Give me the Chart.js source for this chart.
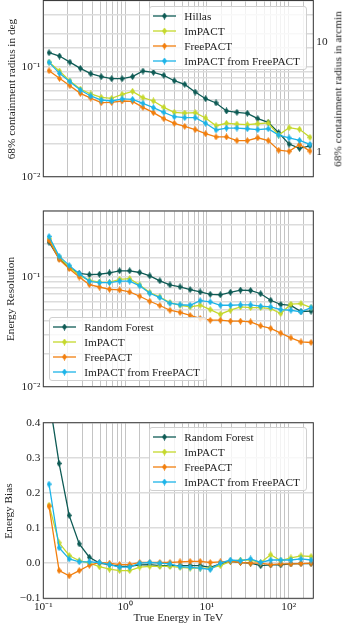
<!DOCTYPE html>
<html>
<head>
<meta charset="utf-8">
<script src="https://cdn.jsdelivr.net/npm/chart.js@4.4.1/dist/chart.umd.min.js"></script>
<style>
  html, body { margin: 0; padding: 0; background: #fff; }
  #page { position: relative; width: 348px; height: 625px; overflow: hidden; font-family: "Liberation Serif", serif; color: #222; }
  #page canvas.plot { position: absolute; left: 0; }
  .title { position: absolute; white-space: nowrap; font-size: 11.3px; line-height: 1; }
  .ytitle { transform: translate(-50%, -50%) rotate(-90deg); }
  .xtitle { transform: translate(-50%, -50%); }
  .legend { position: absolute; width: 158px; height: 64px; background: rgba(255,255,255,0.8); border: 1px solid #d0d0d0; border-radius: 3px; box-sizing: border-box; }
  .legend .row { position: absolute; left: 0; height: 14px; white-space: nowrap; font-size: 11.3px; line-height: 14px; }
  .legend .row canvas { position: absolute; left: 3px; top: 2px; }
  .legend .row span { position: absolute; left: 34px; top: 0; }
</style>
</head>
<body>
<div id="page">
  <canvas id="psf" class="plot" width="348" height="180" style="top:0px"></canvas>
  <canvas id="res" class="plot" width="348" height="190" style="top:200px"></canvas>
  <canvas id="bias" class="plot" width="348" height="215" style="top:410px"></canvas>

  <div class="title ytitle" style="left:11.5px; top:88.6px">68% containment radius in deg</div>
  <div class="title ytitle" style="left:337.5px; top:88.6px">68% containment radius in arcmin</div>
  <div class="title ytitle" style="left:11px; top:299px">Energy Resolution</div>
  <div class="title ytitle" style="left:8.5px; top:510.5px">Energy Bias</div>
  <div class="title xtitle" style="left:178.3px; top:618px">True Energy in TeV</div>

  <div id="legPsf" class="legend" style="left:149.3px; top:6px"></div>
  <div id="legRes" class="legend" style="left:49.3px; top:316.7px"></div>
  <div id="legBias" class="legend" style="left:149.3px; top:426.7px"></div>
</div>

<script>
// bin centres in TeV
const energyPsf = [0.1175, 0.1576, 0.2114, 0.2836, 0.3804, 0.5105, 0.6848, 0.9188, 1.233, 1.654, 2.218, 2.976, 3.992,
  5.356, 7.185, 9.638, 12.93, 17.35, 23.27, 31.22, 41.88, 56.19, 75.38, 101.1, 135.7, 182.0];
const energyReco = [0.1175, 0.1560, 0.2072, 0.2751, 0.3654, 0.4853, 0.6445, 0.8559, 1.137, 1.510, 2.005, 2.662, 3.535,
  4.695, 6.235, 8.279, 10.99, 14.60, 19.39, 25.75, 34.20, 45.42, 60.31, 80.10, 106.4, 141.3, 187.6];

// angular resolution (deg)
const psfHillas = [0.134, 0.125, 0.110, 0.0967, 0.0864, 0.0812, 0.0778, 0.0778, 0.0812, 0.0914, 0.0889, 0.0835, 0.0746,
  0.0691, 0.0589, 0.0512, 0.0468, 0.0396, 0.0385, 0.0377, 0.0337, 0.0312, 0.0251, 0.0198, 0.0181, 0.0191];
const psfImpact = [0.110, 0.0914, 0.0741, 0.0627, 0.0565, 0.0527, 0.0516, 0.0561, 0.0597, 0.0523, 0.0488, 0.0427, 0.0385,
  0.0379, 0.0382, 0.0342, 0.0291, 0.0306, 0.0301, 0.0297, 0.0303, 0.0308, 0.0239, 0.0279, 0.0270, 0.0228];
const psfFree = [0.0920, 0.0784, 0.0672, 0.0573, 0.0519, 0.0471, 0.0474, 0.0488, 0.0484, 0.0427, 0.0382, 0.0337, 0.0306,
  0.0287, 0.0268, 0.0246, 0.0230, 0.0230, 0.0213, 0.0213, 0.0226, 0.0213, 0.0174, 0.0170, 0.0196, 0.0171];
const psfImpactFree = [0.1096, 0.0870, 0.0731, 0.0614, 0.0542, 0.0498, 0.0488, 0.0509, 0.0505, 0.0465, 0.0424, 0.0385, 0.0351,
  0.0344, 0.0344, 0.0306, 0.0266, 0.0277, 0.0277, 0.0273, 0.0268, 0.0273, 0.0239, 0.0225, 0.0214, 0.0197];

// energy resolution
const resRF = [0.208, 0.147, 0.122, 0.108, 0.105, 0.106, 0.109, 0.114, 0.114, 0.110, 0.1025, 0.0924, 0.0849,
  0.0814, 0.0768, 0.0731, 0.0696, 0.0689, 0.0726, 0.0760, 0.0754, 0.0704, 0.0614, 0.0562, 0.0551, 0.0485, 0.0488];
const resImpact = [0.2234, 0.152, 0.123, 0.1036, 0.0933, 0.090, 0.0895, 0.0953, 0.0967, 0.0846, 0.0722, 0.0658, 0.0585,
  0.0553, 0.0534, 0.0553, 0.0505, 0.0458, 0.0498, 0.0534, 0.0527, 0.0527, 0.0516, 0.0465, 0.0565, 0.0573, 0.0527];
const resFree = [0.2157, 0.1448, 0.1192, 0.100, 0.0853, 0.0811, 0.0773, 0.0762, 0.0731, 0.0668, 0.0601, 0.0550, 0.0498,
  0.0475, 0.0446, 0.0419, 0.0404, 0.0404, 0.0396, 0.0396, 0.0390, 0.0359, 0.0340, 0.0308, 0.0279, 0.0256, 0.0253];
const resImpactFree = [0.2344, 0.155, 0.1277, 0.1074, 0.0914, 0.0890, 0.0890, 0.0918, 0.0918, 0.0832, 0.0711, 0.0650, 0.0577,
  0.0559, 0.0553, 0.0608, 0.0593, 0.0553, 0.0553, 0.0557, 0.0557, 0.0542, 0.0534, 0.0505, 0.0498, 0.0481, 0.0527];

// energy bias
const biasRF = [0.47, 0.284, 0.136, 0.055, 0.017, 0.0, -0.004, -0.009, -0.009, -0.005, -0.004, -0.007, -0.007,
  -0.007, -0.007, -0.007, -0.012, -0.002, 0.005, 0.002, 0.0, -0.007, -0.005, -0.005, -0.002, -0.001, -0.001];
const biasImpact = [0.165, 0.058, 0.022, 0.007, 0.0, -0.010, -0.017, -0.021, -0.021, -0.011, -0.009, -0.009, -0.009,
  -0.012, -0.014, -0.014, -0.014, -0.007, 0.005, 0.009, 0.009, 0.002, 0.024, 0.007, 0.015, 0.021, 0.019];
const biasFree = [0.162, -0.021, -0.036, -0.021, -0.006, 0.002, 0.0, -0.004, -0.004, 0.002, 0.002, 0.002, 0.002,
  0.004, 0.005, 0.005, 0.002, 0.004, 0.005, 0.002, 0.0, 0.0, -0.004, -0.002, -0.002, -0.001, 0.0];
const biasImpactFree = [0.225, 0.044, 0.012, 0.004, 0.004, 0.002, -0.004, -0.011, -0.011, 0.0, 0.002, 0.0, -0.002,
  -0.010, -0.012, -0.014, -0.018, 0.0, 0.009, 0.007, 0.012, 0.002, 0.009, 0.009, 0.009, 0.012, 0.009];

const namesPsf = ['Hillas', 'ImPACT', 'FreePACT', 'ImPACT from FreePACT'];
const namesEnergy = ['Random Forest', 'ImPACT', 'FreePACT', 'ImPACT from FreePACT'];
const biasTicks = [-0.1, 0.0, 0.1, 0.2, 0.3, 0.4];

const COLORS = ['#0e5b55', '#c5d82c', '#f27f0e', '#1db4e8'];
const FONT = { family: '"Liberation Serif", serif', size: 11.3 };
const PLOT_L = 43.3, PLOT_R = 34.7;   // left axis width / right margin

// thin diamond marker, like matplotlib 'd'
function diamond(color) {
  const c = document.createElement('canvas');
  c.width = 5; c.height = 7;
  const g = c.getContext('2d');
  g.fillStyle = color;
  g.beginPath();
  g.moveTo(2.5, 0); g.lineTo(5, 3.5); g.lineTo(2.5, 7); g.lineTo(0, 3.5);
  g.closePath(); g.fill();
  return c;
}
const MARKERS = COLORS.map(diamond);

const SUP = { '-': '\u207B', '0': '\u2070', '1': '\u00B9', '2': '\u00B2', '3': '\u00B3' };
function isDecade(v) {
  const e = Math.log10(v);
  return Math.abs(e - Math.round(e)) < 1e-6;
}
function powLabel(v) {
  if (!isDecade(v)) return '';
  return '10' + String(Math.round(Math.log10(v))).split('').map(c => SUP[c]).join('');
}

// spines on all four sides
const frame = {
  id: 'frame',
  afterDraw(chart) {
    const { ctx, chartArea: a } = chart;
    ctx.save();
    ctx.strokeStyle = '#3c3c3c';
    ctx.lineWidth = 1;
    ctx.strokeRect(a.left, a.top, a.right - a.left, a.bottom - a.top);
    ctx.restore();
  }
};

function noPad(s) { s.paddingTop = s.paddingBottom = s.paddingLeft = s.paddingRight = 0; }

function energyAxis(labels, height) {
  return {
    type: 'logarithmic', position: 'bottom', min: 0.1, max: 200,
    grid: { color: '#c4c4c4', lineWidth: 1, drawTicks: false },
    border: { display: false },
    ticks: { display: labels, autoSkip: false, maxRotation: 0, minRotation: 0, padding: 2, font: FONT, color: '#222', callback: v => powLabel(v) },
    afterFit: s => { s.height = height; noPad(s); }
  };
}

function valueAxis(extra) {
  return Object.assign({
    position: 'left',
    grid: { color: '#dcdcdc', lineWidth: 1.4, drawTicks: false },
    border: { display: false },
    afterFit: s => { s.width = PLOT_L; noPad(s); }
  }, extra);
}

function datasets(xs, series, names) {
  return series.map((ys, i) => ({
    label: names[i],
    data: ys.map((y, j) => ({ x: xs[j], y })),
    borderColor: COLORS[i],
    backgroundColor: COLORS[i],
    borderWidth: 1.3,
    tension: 0,
    pointStyle: MARKERS[i],
    order: series.length - i
  }));
}

function build(id, sets, scales, padTop, padRight) {
  return new Chart(document.getElementById(id), {
    type: 'line',
    data: { datasets: sets },
    options: {
      responsive: false,
      animation: false,
      events: [],
      layout: { autoPadding: false, padding: { top: padTop, right: padRight, bottom: 0, left: 0 } },
      plugins: { legend: { display: false }, tooltip: { enabled: false } },
      scales
    },
    plugins: [frame]
  });
}

// panel 1: angular resolution, with arcmin axis on the right
build('psf', datasets(energyPsf, [psfHillas, psfImpact, psfFree, psfImpactFree], namesPsf), {
  x: energyAxis(false, 3.3),
  y: valueAxis({ type: 'logarithmic', min: 0.01, max: 0.4,
    ticks: { autoSkip: false, padding: 3, font: FONT, color: '#222', callback: v => powLabel(v) } }),
  y2: {
    type: 'logarithmic', position: 'right', min: 0.6, max: 24,
    grid: { drawOnChartArea: false, drawTicks: false },
    border: { display: false },
    ticks: { autoSkip: false, padding: 3, font: FONT, color: '#222', callback: v => isDecade(v) ? String(Math.round(v)) : '' },
    afterFit: s => { s.width = PLOT_R; noPad(s); }
  }
}, 0.5, 0);

// panel 2: energy resolution
build('res', datasets(energyReco, [resRF, resImpact, resFree, resImpactFree], namesEnergy), {
  x: energyAxis(false, 3.3),
  y: valueAxis({ type: 'logarithmic', min: 0.01, max: 0.4,
    ticks: { autoSkip: false, padding: 3, font: FONT, color: '#222', callback: v => powLabel(v) } })
}, 11, PLOT_R);

// panel 3: energy bias
build('bias', datasets(energyReco, [biasRF, biasImpact, biasFree, biasImpactFree], namesEnergy), {
  x: energyAxis(true, 26.7),
  y: valueAxis({ type: 'linear', min: biasTicks[0], max: biasTicks[biasTicks.length - 1],
    afterBuildTicks: s => { s.ticks = biasTicks.map(v => ({ value: v })); },
    ticks: { padding: 3, font: FONT, color: '#222',
      callback: v => Math.abs(v) < 1e-9 ? '0.0' : v.toFixed(1).replace('-', '\u2212') } })
}, 12.7, PLOT_R);

// legends
function legend(id, names) {
  const box = document.getElementById(id);
  names.forEach((name, i) => {
    const row = document.createElement('div');
    row.className = 'row';
    row.style.top = (2 + i * 15) + 'px';
    const c = document.createElement('canvas');
    c.width = 23; c.height = 10;
    const g = c.getContext('2d');
    g.strokeStyle = COLORS[i];
    g.lineWidth = 1.3;
    g.beginPath(); g.moveTo(0, 5); g.lineTo(23, 5); g.stroke();
    g.drawImage(MARKERS[i], 9, 1.5);
    const t = document.createElement('span');
    t.textContent = name;
    row.appendChild(c); row.appendChild(t);
    box.appendChild(row);
  });
}
legend('legPsf', namesPsf);
legend('legRes', namesEnergy);
legend('legBias', namesEnergy);
</script>
</body>
</html>
